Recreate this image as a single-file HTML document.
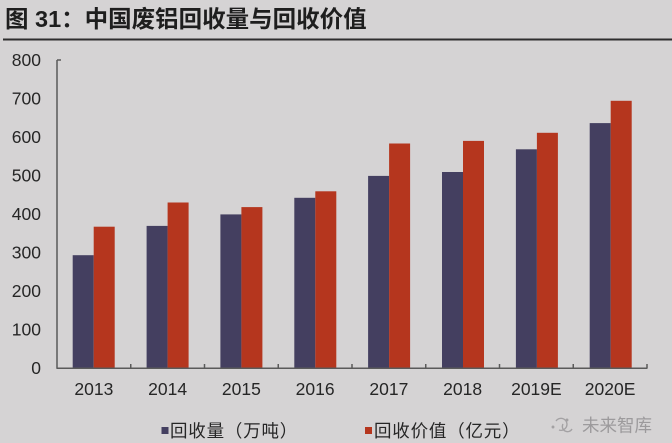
<!DOCTYPE html>
<html>
<head>
<meta charset="utf-8">
<style>
html,body{margin:0;padding:0;background:#d5d3d4;}
svg{display:block;}
text{font-family:"Liberation Sans","Noto Sans CJK SC",sans-serif;}
</style>
</head>
<body>
<svg width="672" height="443" viewBox="0 0 672 443" xmlns="http://www.w3.org/2000/svg">
<rect x="0" y="0" width="672" height="443" fill="#d5d3d4"/>
<!-- Title -->
<text x="5" y="27" font-size="23.5" font-weight="bold" fill="#1e1e1e">图 31：中国废铝回收量与回收价值</text>
<rect x="3" y="38.5" width="669" height="2" fill="#2e2e2e"/>

<!-- Y labels -->
<g font-size="17.5" fill="#262626" text-anchor="end">
<text x="41" y="66">800</text>
<text x="41" y="104.5">700</text>
<text x="41" y="143">600</text>
<text x="41" y="181.5">500</text>
<text x="41" y="220">400</text>
<text x="41" y="258.5">300</text>
<text x="41" y="297">200</text>
<text x="41" y="335.5">100</text>
<text x="41" y="374">0</text>
</g>

<!-- Bars blue -->
<g fill="#443f60">
<rect x="72.7" y="255.2" width="21" height="112.8"/>
<rect x="146.6" y="225.9" width="21" height="142.1"/>
<rect x="220.4" y="214.4" width="21" height="153.6"/>
<rect x="294.3" y="197.8" width="21" height="170.2"/>
<rect x="368.1" y="175.9" width="21" height="192.1"/>
<rect x="442.0" y="172.0" width="21" height="196.0"/>
<rect x="515.9" y="149.3" width="21" height="218.7"/>
<rect x="589.7" y="123.1" width="21" height="244.9"/>
</g>
<!-- Bars red -->
<g fill="#b5361e">
<rect x="93.7" y="226.7" width="21" height="141.3"/>
<rect x="167.6" y="202.5" width="21" height="165.5"/>
<rect x="241.4" y="207.1" width="21" height="160.9"/>
<rect x="315.3" y="191.3" width="21" height="176.7"/>
<rect x="389.1" y="143.5" width="21" height="224.5"/>
<rect x="463.0" y="140.9" width="21" height="227.1"/>
<rect x="536.9" y="132.8" width="21" height="235.2"/>
<rect x="610.7" y="100.8" width="21" height="267.2"/>
</g>

<!-- Axes -->
<g stroke="#5a5a5a" stroke-width="1.5" fill="none">
<line x1="57" y1="60" x2="57" y2="368.5"/>
<line x1="57" y1="60" x2="61" y2="60"/>
<line x1="56.5" y1="368.3" x2="647.5" y2="368.3"/>
<line x1="130.75" y1="368" x2="130.75" y2="364"/>
<line x1="204.5" y1="368" x2="204.5" y2="364"/>
<line x1="278.25" y1="368" x2="278.25" y2="364"/>
<line x1="352" y1="368" x2="352" y2="364"/>
<line x1="425.75" y1="368" x2="425.75" y2="364"/>
<line x1="499.5" y1="368" x2="499.5" y2="364"/>
<line x1="573.25" y1="368" x2="573.25" y2="364"/>
<line x1="647" y1="368" x2="647" y2="364"/>
</g>

<!-- X labels -->
<g font-size="17.5" fill="#262626" text-anchor="middle">
<text x="93.9" y="395">2013</text>
<text x="167.6" y="395">2014</text>
<text x="241.4" y="395">2015</text>
<text x="315.1" y="395">2016</text>
<text x="388.9" y="395">2017</text>
<text x="462.6" y="395">2018</text>
<text x="536.4" y="395">2019E</text>
<text x="610.1" y="395">2020E</text>
</g>

<!-- Legend -->
<rect x="161.5" y="427" width="7" height="7" fill="#443f60"/>
<text x="170" y="437" font-size="17.5" letter-spacing="0.8" fill="#262626">回收量（万吨）</text>
<rect x="365" y="427" width="7" height="7" fill="#b5361e"/>
<text x="374" y="437" font-size="17.5" letter-spacing="0.8" fill="#262626">回收价值（亿元）</text>

<!-- Watermark -->
<g stroke="#a3a1a3" stroke-width="1.3" fill="none">
<path d="M556 421 a6 6 0 1 1 3 9"/>
<path d="M563 424 a5 5 0 1 0 9 5"/>
<circle cx="553" cy="427" r="0.8" fill="#a3a1a3"/>
<circle cx="567" cy="420" r="0.8" fill="#a3a1a3"/>
</g>
<text x="582" y="431.5" font-size="17.5" fill="#9c9a9c">未来智库</text>
</svg>
</body>
</html>
